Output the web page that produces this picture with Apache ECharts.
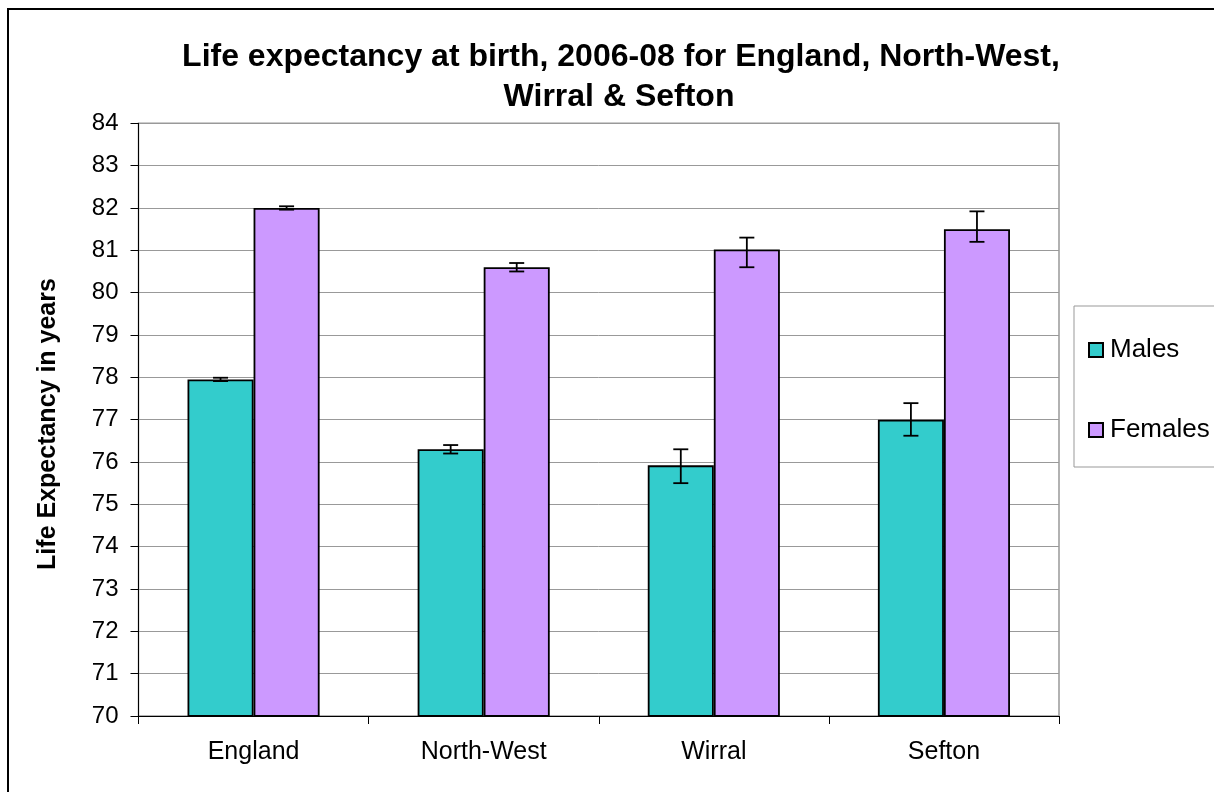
<!DOCTYPE html>
<html>
<head>
<meta charset="utf-8">
<script src="https://cdn.jsdelivr.net/npm/echarts@6/dist/echarts.min.js"></script>
<style>
html,body{margin:0;padding:0;background:#fff;}
#chart{width:1214px;height:792px;}
</style>
</head>
<body>
<div id="chart"></div>
<script>
const categories = ['England', 'North-West', 'Wirral', 'Sefton'];
const males = [77.95, 76.3, 75.92, 77.0];
const malesLow = [77.91, 76.2, 75.5, 76.62];
const malesHigh = [77.99, 76.4, 76.3, 77.39];
const females = [82.0, 80.6, 81.02, 81.5];
const femalesLow = [81.96, 80.5, 80.6, 81.2];
const femalesHigh = [82.04, 80.7, 81.3, 81.92];
const yTicks = [70, 84, 1];

const font = '"Liberation Sans", Arial, sans-serif';
const BAR_FRAC = 0.287;

function errorSeries(name, low, high, side) {
  return {
    type: 'custom',
    name: name + ' error',
    z: 10,
    silent: true,
    data: categories.map((c, i) => [i, low[i], high[i]]),
    renderItem: function (params, api) {
      const i = api.value(0);
      const band = api.size([1, 0])[0];
      const off = side * band * BAR_FRAC / 2;
      const pLow = api.coord([i, api.value(1)]);
      const pHigh = api.coord([i, api.value(2)]);
      const x = pLow[0] + off;
      const cap = 7.5;
      const style = { stroke: '#000', lineWidth: 1.8 };
      return {
        type: 'group',
        children: [
          { type: 'line', shape: { x1: x, y1: pLow[1], x2: x, y2: pHigh[1] }, style: style },
          { type: 'line', shape: { x1: x - cap, y1: pLow[1], x2: x + cap, y2: pLow[1] }, style: style },
          { type: 'line', shape: { x1: x - cap, y1: pHigh[1], x2: x + cap, y2: pHigh[1] }, style: style }
        ]
      };
    }
  };
}

const chart = echarts.init(document.getElementById('chart'));
chart.setOption({
  backgroundColor: '#fff',
  animation: false,
  textStyle: { fontFamily: font, color: '#000' },
  graphic: [
    { type: 'rect', shape: { x: 8, y: 9, width: 1230, height: 800 }, style: { fill: 'none', stroke: '#000', lineWidth: 2 }, z: 0 },
    { type: 'rect', shape: { x: 1074, y: 306, width: 160, height: 161 }, style: { fill: '#fff', stroke: '#999', lineWidth: 1 }, z: 1 },
    { type: 'text', x: 621, y: 57, style: { text: 'Life expectancy at birth, 2006-08 for England, North-West,', font: 'bold 32px ' + font, fill: '#000', textAlign: 'center', textVerticalAlign: 'middle' } },
    { type: 'text', x: 619, y: 97, style: { text: 'Wirral & Sefton', font: 'bold 32px ' + font, fill: '#000', textAlign: 'center', textVerticalAlign: 'middle' } },
    { type: 'text', x: 48, y: 424, rotation: Math.PI / 2, style: { text: 'Life Expectancy in years', font: 'bold 25px ' + font, fill: '#000', textAlign: 'center', textVerticalAlign: 'middle' } }
  ],
  legend: {
    orient: 'vertical',
    left: 1083,
    top: 332,
    itemWidth: 14,
    itemHeight: 14,
    itemGap: 54,
    icon: 'rect',
    textStyle: { fontSize: 26, fontFamily: font, color: '#000', padding: [0, 0, 0, 2] },
    data: ['Males', 'Females'],
    z: 5
  },
  grid: {
    left: 138.5, top: 123.3, right: 155, bottom: 76,
    show: true, borderColor: '#999', borderWidth: 1.5, backgroundColor: '#fff'
  },
  xAxis: {
    type: 'category',
    data: categories,
    axisLine: { lineStyle: { color: '#000', width: 1 } },
    axisTick: { show: true, length: 8, lineStyle: { color: '#000' } },
    axisLabel: { fontSize: 25, color: '#000', margin: 24, fontFamily: font },
    splitLine: { show: false }
  },
  yAxis: {
    type: 'value',
    min: yTicks[0], max: yTicks[1], interval: yTicks[2],
    axisLine: { show: true, lineStyle: { color: '#000', width: 1 } },
    axisTick: { show: true, length: 8, lineStyle: { color: '#000' } },
    axisLabel: { fontSize: 24, color: '#000', margin: 20, fontFamily: font },
    splitLine: { show: true, lineStyle: { color: '#999', width: 1 } }
  },
  series: [
    {
      name: 'Males', type: 'bar', data: males, barWidth: (BAR_FRAC * 100) + '%', barGap: '0%',
      itemStyle: { color: '#33CCCC', borderColor: '#000', borderWidth: 1.8 }
    },
    {
      name: 'Females', type: 'bar', data: females, barWidth: (BAR_FRAC * 100) + '%', barGap: '0%',
      itemStyle: { color: '#CC99FF', borderColor: '#000', borderWidth: 1.8 }
    },
    errorSeries('Males', malesLow, malesHigh, -1),
    errorSeries('Females', femalesLow, femalesHigh, 1)
  ]
});
</script>
</body>
</html>
